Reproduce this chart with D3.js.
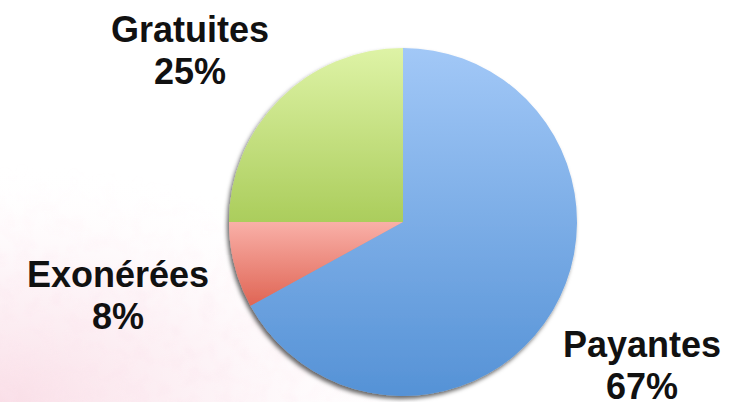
<!DOCTYPE html>
<html><head><meta charset="utf-8">
<script src="https://cdn.jsdelivr.net/npm/d3@7"></script>
<style>html,body{margin:0;padding:0;background:#fff;}svg{display:block;}</style>
</head><body>
<svg id="c" width="735" height="402"></svg>
<script>
const categories = ["Payantes", "Exonérées", "Gratuites"];
const values = [67, 8, 25];
const percentLabels = ["67%", "8%", "25%"];

const colorTop = ["#a2c8f7", "#f9b0a8", "#def3a6"];
const colorBottom = ["#5592d6", "#dc5a48", "#abcd5c"];
// label anchor (centre of first line baseline)
const labelPos = [[642, 357], [118, 287], [190, 42]];

const W = 735, H = 402, cx = 403, cy = 222, R = 174;
const svg = d3.select("#c");
const defs = svg.append("defs");

// background pink texture
const bg = defs.append("radialGradient").attr("id", "bgpink")
  .attr("cx", 0.0).attr("cy", 1.0).attr("r", 0.6);
bg.append("stop").attr("offset", "0%").attr("stop-color", "#f4bfd0").attr("stop-opacity", 0.75);
bg.append("stop").attr("offset", "50%").attr("stop-color", "#f9dde7").attr("stop-opacity", 0.5);
bg.append("stop").attr("offset", "100%").attr("stop-color", "#fff").attr("stop-opacity", 0);
const noise = defs.append("filter").attr("id", "noise");
noise.append("feTurbulence").attr("type", "fractalNoise").attr("baseFrequency", 0.06).attr("numOctaves", 2).attr("seed", 3).attr("result", "t");
noise.append("feColorMatrix").attr("in", "t").attr("type", "matrix")
  .attr("values", "0 0 0 0 0.97  0 0 0 0 0.78  0 0 0 0 0.85  1.6 0 0 0 -0.6").attr("result", "n");
noise.append("feComposite").attr("in", "n").attr("in2", "SourceGraphic").attr("operator", "in");
svg.append("rect").attr("width", W).attr("height", H).attr("fill", "#fff");
svg.append("rect").attr("width", W).attr("height", H).attr("fill", "url(#bgpink)").attr("opacity", 0.7);
svg.append("rect").attr("width", W).attr("height", H).attr("fill", "url(#bgpink)").attr("filter", "url(#noise)").attr("opacity", 0.8);

const f = defs.append("filter").attr("id", "sh").attr("x", "-20%").attr("y", "-20%").attr("width", "140%").attr("height", "140%");
f.append("feDropShadow").attr("dx", -2).attr("dy", 3).attr("stdDeviation", 2)
  .attr("flood-color", "#000").attr("flood-opacity", 0.6);

categories.forEach((c, i) => {
  const g = defs.append("linearGradient").attr("id", "g" + i)
    .attr("gradientUnits", "userSpaceOnUse")
    .attr("x1", 0).attr("y1", cy - R).attr("x2", 0).attr("y2", cy + R);
  g.append("stop").attr("offset", "0%").attr("stop-color", colorTop[i]);
  g.append("stop").attr("offset", "100%").attr("stop-color", colorBottom[i]);
});
d3.select("#g1").attr("y1", cy).attr("y2", cy + R * 0.55);
d3.select("#g2").attr("y1", cy - R).attr("y2", cy);

const pie = d3.pie().sort(null).value(d => d)(values);
const arc = d3.arc().innerRadius(0).outerRadius(R);

const gp = svg.append("g").attr("filter", "url(#sh)");
gp.selectAll("path").data(pie).join("path")
  .attr("d", arc)
  .attr("fill", (d, i) => `url(#g${i})`)
  .attr("transform", `translate(${cx},${cy})`);
categories.forEach((c, i) => {
  d3.select("#g" + i).attr("gradientTransform", `translate(${-cx},${-cy})`);
});

const lab = svg.append("g").attr("font-family", "Liberation Sans, Arial, sans-serif")
  .attr("font-weight", "bold").attr("font-size", 36).attr("fill", "#111").attr("text-anchor", "middle");
categories.forEach((c, i) => {
  const t = lab.append("text").attr("x", labelPos[i][0]).attr("y", labelPos[i][1]);
  t.append("tspan").attr("x", labelPos[i][0]).text(c);
  t.append("tspan").attr("x", labelPos[i][0]).attr("dy", 42).text(percentLabels[i]);
});
</script>
</body></html>
